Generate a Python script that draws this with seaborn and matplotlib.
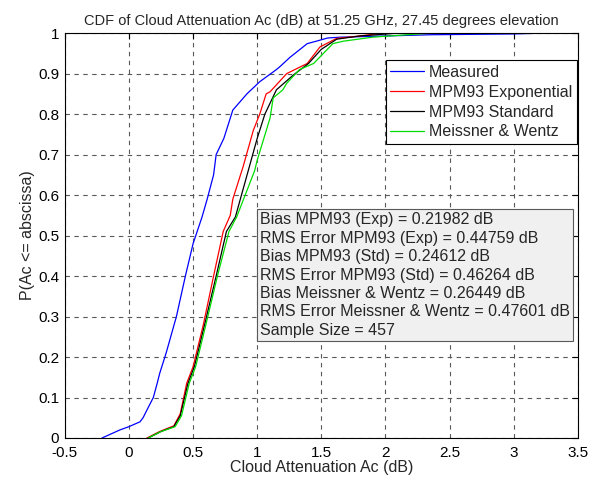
import numpy as np
import pandas as pd
import matplotlib
matplotlib.use("Agg")
import matplotlib.pyplot as plt
import seaborn as sns

# CDF points (attenuation dB, cumulative probability)
meas_x = [-0.21, -0.07, 0.0, 0.086, 0.11, 0.14, 0.19, 0.22, 0.24, 0.29, 0.37, 0.44, 0.50,
          0.57, 0.61, 0.66, 0.68, 0.74, 0.79, 0.81, 0.92, 1.02, 1.15, 1.18, 1.255, 1.39,
          1.46, 1.55, 1.65, 2.0, 2.35, 3.0, 3.23]
meas_y = [0.0, 0.02, 0.028, 0.04, 0.05, 0.069, 0.10, 0.135, 0.16, 0.21, 0.30, 0.40, 0.48,
          0.546, 0.59, 0.65, 0.70, 0.74, 0.79, 0.81, 0.85, 0.88, 0.91, 0.918, 0.94, 0.974,
          0.98, 0.988, 0.99, 0.993, 0.996, 0.998, 1.0]

exp_x = [0.14, 0.24, 0.27, 0.35, 0.40, 0.45, 0.50, 0.58, 0.66, 0.735, 0.79, 0.81, 0.89,
         0.97, 1.02, 1.07, 1.10, 1.23, 1.39, 1.49, 1.62, 1.8, 1.98]
exp_y = [0.0, 0.016, 0.02, 0.03, 0.06, 0.135, 0.176, 0.28, 0.40, 0.51, 0.55, 0.59, 0.67,
         0.76, 0.80, 0.85, 0.855, 0.90, 0.925, 0.966, 0.987, 0.993, 1.0]

std_x = [0.15, 0.25, 0.35, 0.40, 0.46, 0.51, 0.59, 0.68, 0.76, 0.83, 0.93, 1.0, 1.06,
         1.15, 1.28, 1.40, 1.50, 1.62, 1.8, 2.1]
std_y = [0.0, 0.016, 0.028, 0.055, 0.135, 0.176, 0.28, 0.40, 0.51, 0.546, 0.66, 0.74, 0.80,
         0.86, 0.896, 0.925, 0.96, 0.985, 0.993, 1.0]

mw_x = [0.15, 0.25, 0.36, 0.41, 0.47, 0.52, 0.60, 0.69, 0.78, 0.84, 0.98, 1.0, 1.10,
        1.125, 1.20, 1.23, 1.33, 1.44, 1.59, 1.67, 1.9, 2.35]
mw_y = [0.0, 0.016, 0.028, 0.055, 0.135, 0.176, 0.28, 0.40, 0.51, 0.546, 0.66, 0.686, 0.79,
        0.84, 0.86, 0.876, 0.91, 0.925, 0.974, 0.98, 0.99, 1.0]

series_names = ["Measured", "MPM93 Exponential", "MPM93 Standard", "Meissner & Wentz"]
series_colors = ["#0000ff", "#ff0000", "#000000", "#00dd00"]

stats_lines = [
    "Bias MPM93 (Exp) = 0.21982 dB",
    "RMS Error MPM93 (Exp) = 0.44759 dB",
    "Bias MPM93 (Std) = 0.24612 dB",
    "RMS Error MPM93 (Std) = 0.46264 dB",
    "Bias Meissner & Wentz = 0.26449 dB",
    "RMS Error Meissner & Wentz = 0.47601 dB",
    "Sample Size = 457",
]

x_ticks = [-0.5, 0, 0.5, 1, 1.5, 2, 2.5, 3, 3.5]
x_tick_labels = ["-0.5", "0", "0.5", "1", "1.5", "2", "2.5", "3", "3.5"]
y_ticks = [0, 0.1, 0.2, 0.3, 0.4, 0.5, 0.6, 0.7, 0.8, 0.9, 1.0]
y_tick_labels = ["0", "0.1", "0.2", "0.3", "0.4", "0.5", "0.6", "0.7", "0.8", "0.9", "1"]

sns.set_style("white")
plt.rcParams["font.family"] = ["Liberation Sans", "DejaVu Sans"]

frames = []
for name, xs, ys in zip(series_names, [meas_x, exp_x, std_x, mw_x], [meas_y, exp_y, std_y, mw_y]):
    frames.append(pd.DataFrame({"x": xs, "y": ys, "series": name}))
df = pd.concat(frames, ignore_index=True)

fig = plt.figure(figsize=(5.95, 4.78), dpi=100)
ax = fig.add_axes([0.109, 0.0837, 0.862, 0.847])

sns.lineplot(data=df, x="x", y="y", hue="series", hue_order=series_names,
             palette=dict(zip(series_names, series_colors)), estimator=None,
             sort=False, linewidth=0.9, ax=ax)

ax.set_xlim(-0.5, 3.5)
ax.set_ylim(0, 1)
ax.set_xticks(x_ticks)
ax.set_xticklabels(x_tick_labels)
ax.set_yticks(y_ticks)
ax.set_yticklabels(y_tick_labels)
ax.tick_params(direction="in", top=True, right=True, length=4, width=0.8,
               labelsize=11, colors="black")
ax.tick_params(axis="x", pad=6)
ax.tick_params(axis="y", pad=4)
ax.grid(True, color="0.35", linestyle=(0, (4, 4)), linewidth=0.8)
for s in ax.spines.values():
    s.set_color("black")
    s.set_linewidth(0.8)

ax.set_title("CDF of Cloud Attenuation Ac (dB) at 51.25 GHz, 27.45 degrees elevation",
             fontsize=10.5, pad=6)
ax.set_xlabel("Cloud Attenuation Ac (dB)", fontsize=11.5, labelpad=0)
ax.set_ylabel("P(Ac <= abscissa)", fontsize=11.5, labelpad=2)

leg = ax.legend(loc="upper right", bbox_to_anchor=(0.998, 0.933), fontsize=11.5,
                frameon=True, fancybox=False, edgecolor="black", framealpha=1,
                handlelength=2.1, handletextpad=0.3, borderpad=0.3, labelspacing=0.3,
                borderaxespad=0)
leg.get_frame().set_linewidth(0.8)

ax.text(1.02, 0.557, "\n".join(stats_lines), fontsize=11.5, va="top", ha="left",
        linespacing=1.28,
        bbox=dict(boxstyle="square,pad=0.2", facecolor="#f0f0f0", edgecolor="0.35",
                  linewidth=0.8))

fig.savefig("out.png", dpi=100)
